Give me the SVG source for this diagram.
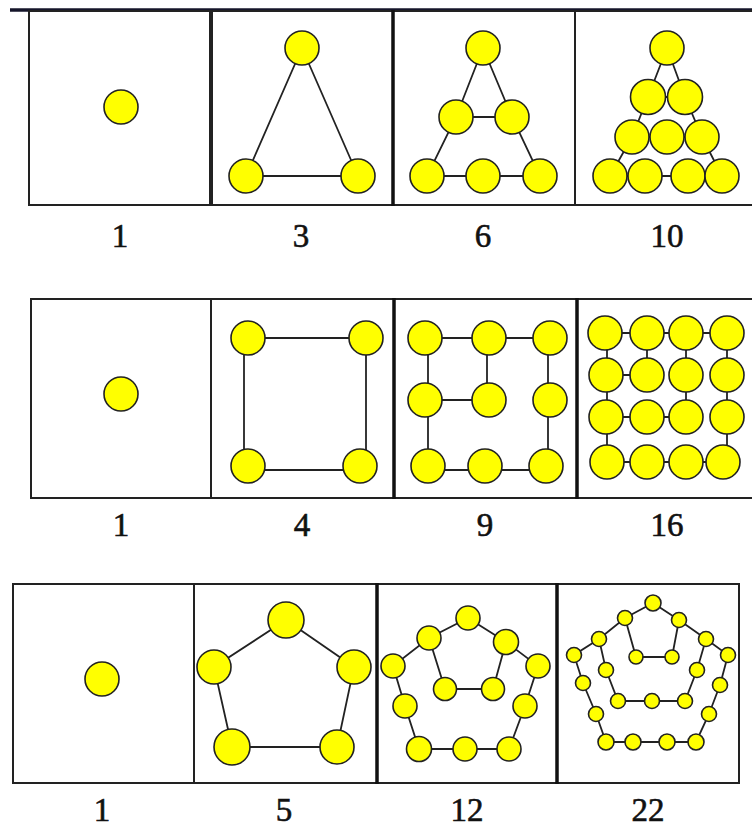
<svg xmlns="http://www.w3.org/2000/svg" width="752" height="827" viewBox="0 0 752 827">
<style>
.bg{fill:#ffffff}
.panel{fill:#ffffff;stroke:#222;stroke-width:2}
.thick{stroke:#111;stroke-width:3.5;fill:none}
.bar{stroke:#15152a;stroke-width:3.5}
.n{fill:#ffff00;stroke:#222;stroke-width:1.6}
.e line,.e polyline{stroke:#222;stroke-width:1.8;fill:none}
.lbl{font-family:"Liberation Serif","Times New Roman",serif;font-size:33px;fill:#111;stroke:#111;stroke-width:0.6;text-anchor:middle}
</style>
<rect class="bg" x="0" y="0" width="752" height="827"/>

<!-- frames -->
<g id="frames">
<line class="bar" x1="10" y1="10" x2="752" y2="10"/>
<rect class="panel" x="29" y="11" width="181" height="194"/>
<rect class="panel" x="212" y="11" width="181" height="194"/>
<rect class="panel" x="393" y="11" width="182" height="194"/>
<rect class="panel" x="575" y="11" width="180" height="194"/>
<line class="thick" x1="393" y1="10" x2="393" y2="206"/>

<rect class="panel" x="31" y="299" width="180" height="199"/>
<rect class="panel" x="211" y="299" width="183" height="199"/>
<rect class="panel" x="394" y="299" width="183" height="199"/>
<rect class="panel" x="577" y="299" width="178" height="199"/>
<line class="thick" x1="394" y1="298" x2="394" y2="499"/>
<line class="thick" x1="577" y1="298" x2="577" y2="499"/>

<rect class="panel" x="13" y="584" width="181" height="199"/>
<rect class="panel" x="194" y="584" width="183" height="199"/>
<rect class="panel" x="377" y="584" width="180" height="199"/>
<rect class="panel" x="557" y="584" width="182" height="199"/>
<line class="thick" x1="377" y1="583" x2="377" y2="784"/>
<line class="thick" x1="557" y1="583" x2="557" y2="784"/>
</g>

<!-- connectors -->
<g id="connectors" class="e">
<!-- triangle 3 -->
<polyline points="302,48 246,176 358,176 302,48"/>
<!-- triangle 6 -->
<polyline points="483,48 456,117 427,176 483,176 540,176 512,117 483,48"/>
<line x1="456" y1="117" x2="512" y2="117"/>
<!-- triangle 10 -->
<polyline points="667,48 648,97 632,137 610,176 645,176 688,176 722,176 702,137 685,97 667,48"/>
<line x1="648" y1="97" x2="685" y2="97"/>
<line x1="632" y1="137" x2="702" y2="137"/>
<!-- square 4 -->
<line x1="248" y1="338" x2="366" y2="338"/>
<line x1="244" y1="338" x2="244" y2="466"/>
<line x1="366" y1="338" x2="366" y2="466"/>
<line x1="248" y1="470" x2="360" y2="470"/>
<!-- square 9 -->
<line x1="425" y1="338" x2="550" y2="338"/>
<line x1="428" y1="338" x2="428" y2="466"/>
<line x1="487" y1="338" x2="487" y2="400"/>
<line x1="425" y1="400" x2="489" y2="400"/>
<line x1="548" y1="338" x2="548" y2="466"/>
<line x1="428" y1="470" x2="546" y2="470"/>
<!-- square 16 -->
<line x1="605" y1="333" x2="727" y2="333"/>
<line x1="605" y1="462" x2="727" y2="462"/>
<line x1="607" y1="333" x2="607" y2="462"/>
<line x1="727" y1="333" x2="727" y2="462"/>
<line x1="647" y1="333" x2="647" y2="375"/>
<line x1="686" y1="333" x2="686" y2="417"/>
<line x1="605" y1="375" x2="647" y2="375"/>
<line x1="605" y1="417" x2="686" y2="417"/>
<!-- pentagon 5 -->
<polyline points="286,620 214,667 232,747 337,747 354,667 286,620"/>
<!-- pentagon 12 -->
<polyline points="468,618 429,638 393,666 405,706 419,749 465,749 509,749 525,706 538,666 506,642 468,618"/>
<polyline points="429,638 445,689 493,689 506,642"/>
<!-- pentagon 22 -->
<polyline points="653,603 625,618 599,639 574,655 583,683 596,714 606,742 633,742 667,742 696,742 709,714 720,685 728,655 706,639 679,620 653,603"/>
<polyline points="599,639 606,670 618,701 652,701 685,701 697,670 706,639"/>
<polyline points="625,618 636,657 672,657 679,620"/>
</g>

<!-- nodes: row 1 -->
<g id="tri1"><g id="t1-1"><circle class="n" cx="121" cy="107" r="17"/></g></g>
<g id="tri3">
<g id="t3-1"><circle class="n" cx="302" cy="48" r="17"/></g>
<g id="t3-2"><circle class="n" cx="246" cy="176" r="17"/></g>
<g id="t3-3"><circle class="n" cx="358" cy="176" r="17"/></g>
</g>
<g id="tri6">
<g id="t6-1"><circle class="n" cx="483" cy="48" r="17"/></g>
<g id="t6-2"><circle class="n" cx="456" cy="117" r="17"/></g>
<g id="t6-3"><circle class="n" cx="512" cy="117" r="17"/></g>
<g id="t6-4"><circle class="n" cx="427" cy="176" r="17"/></g>
<g id="t6-5"><circle class="n" cx="483" cy="176" r="17"/></g>
<g id="t6-6"><circle class="n" cx="540" cy="176" r="17"/></g>
</g>
<g id="tri10">
<g id="t10-1"><circle class="n" cx="667" cy="48" r="17"/></g>
<g id="t10-2"><circle class="n" cx="648" cy="97" r="17.5"/></g>
<g id="t10-3"><circle class="n" cx="685" cy="97" r="17.5"/></g>
<g id="t10-4"><circle class="n" cx="632" cy="137" r="17"/></g>
<g id="t10-5"><circle class="n" cx="667" cy="137" r="17"/></g>
<g id="t10-6"><circle class="n" cx="702" cy="137" r="17"/></g>
<g id="t10-7"><circle class="n" cx="610" cy="176" r="17"/></g>
<g id="t10-8"><circle class="n" cx="645" cy="176" r="17"/></g>
<g id="t10-9"><circle class="n" cx="688" cy="176" r="17"/></g>
<g id="t10-10"><circle class="n" cx="722" cy="176" r="17"/></g>
</g>

<!-- nodes: row 2 -->
<g id="sq1"><g id="s1-1"><circle class="n" cx="121" cy="394" r="17"/></g></g>
<g id="sq4">
<g id="s4-1"><circle class="n" cx="248" cy="338" r="17"/></g>
<g id="s4-2"><circle class="n" cx="366" cy="338" r="17"/></g>
<g id="s4-3"><circle class="n" cx="248" cy="466" r="17"/></g>
<g id="s4-4"><circle class="n" cx="360" cy="466" r="17"/></g>
</g>
<g id="sq9">
<g id="s9-1"><circle class="n" cx="425" cy="338" r="17"/></g>
<g id="s9-2"><circle class="n" cx="489" cy="338" r="17"/></g>
<g id="s9-3"><circle class="n" cx="550" cy="338" r="17"/></g>
<g id="s9-4"><circle class="n" cx="425" cy="400" r="17"/></g>
<g id="s9-5"><circle class="n" cx="489" cy="400" r="17"/></g>
<g id="s9-6"><circle class="n" cx="550" cy="400" r="17"/></g>
<g id="s9-7"><circle class="n" cx="428" cy="466" r="17"/></g>
<g id="s9-8"><circle class="n" cx="485" cy="466" r="17"/></g>
<g id="s9-9"><circle class="n" cx="546" cy="466" r="17"/></g>
</g>
<g id="sq16">
<g id="s16-1"><circle class="n" cx="605" cy="333" r="17"/></g>
<g id="s16-2"><circle class="n" cx="647" cy="333" r="17"/></g>
<g id="s16-3"><circle class="n" cx="686" cy="333" r="17"/></g>
<g id="s16-4"><circle class="n" cx="727" cy="333" r="17"/></g>
<g id="s16-5"><circle class="n" cx="606" cy="375" r="17"/></g>
<g id="s16-6"><circle class="n" cx="647" cy="375" r="17"/></g>
<g id="s16-7"><circle class="n" cx="686" cy="375" r="17"/></g>
<g id="s16-8"><circle class="n" cx="727" cy="375" r="17"/></g>
<g id="s16-9"><circle class="n" cx="606" cy="417" r="17"/></g>
<g id="s16-10"><circle class="n" cx="647" cy="417" r="17"/></g>
<g id="s16-11"><circle class="n" cx="686" cy="417" r="17"/></g>
<g id="s16-12"><circle class="n" cx="727" cy="417" r="17"/></g>
<g id="s16-13"><circle class="n" cx="607" cy="462" r="17"/></g>
<g id="s16-14"><circle class="n" cx="647" cy="462" r="17"/></g>
<g id="s16-15"><circle class="n" cx="686" cy="462" r="17"/></g>
<g id="s16-16"><circle class="n" cx="723" cy="462" r="17"/></g>
</g>

<!-- nodes: row 3 -->
<g id="pen1"><g id="p1-1"><circle class="n" cx="102" cy="679" r="17"/></g></g>
<g id="pen5">
<g id="p5-1"><circle class="n" cx="286" cy="620" r="18"/></g>
<g id="p5-2"><circle class="n" cx="214" cy="667" r="17"/></g>
<g id="p5-3"><circle class="n" cx="354" cy="667" r="17"/></g>
<g id="p5-4"><circle class="n" cx="232" cy="747" r="18"/></g>
<g id="p5-5"><circle class="n" cx="337" cy="747" r="17"/></g>
</g>
<g id="pen12">
<g id="p12-1"><circle class="n" cx="468" cy="618" r="12"/></g>
<g id="p12-2"><circle class="n" cx="429" cy="638" r="12"/></g>
<g id="p12-3"><circle class="n" cx="506" cy="642" r="12.5"/></g>
<g id="p12-4"><circle class="n" cx="393" cy="666" r="12"/></g>
<g id="p12-5"><circle class="n" cx="538" cy="666" r="12"/></g>
<g id="p12-6"><circle class="n" cx="405" cy="706" r="12"/></g>
<g id="p12-7"><circle class="n" cx="525" cy="706" r="12"/></g>
<g id="p12-8"><circle class="n" cx="445" cy="689" r="11.5"/></g>
<g id="p12-9"><circle class="n" cx="493" cy="689" r="11.5"/></g>
<g id="p12-10"><circle class="n" cx="419" cy="749" r="12.5"/></g>
<g id="p12-11"><circle class="n" cx="465" cy="749" r="12"/></g>
<g id="p12-12"><circle class="n" cx="509" cy="749" r="12"/></g>
</g>
<g id="pen22">
<g id="p22-1"><circle class="n" cx="653" cy="603" r="8"/></g>
<g id="p22-2"><circle class="n" cx="625" cy="618" r="7.5"/></g>
<g id="p22-3"><circle class="n" cx="679" cy="620" r="7.5"/></g>
<g id="p22-4"><circle class="n" cx="599" cy="639" r="7.5"/></g>
<g id="p22-5"><circle class="n" cx="706" cy="639" r="7.5"/></g>
<g id="p22-6"><circle class="n" cx="574" cy="655" r="7.5"/></g>
<g id="p22-7"><circle class="n" cx="728" cy="655" r="7.5"/></g>
<g id="p22-8"><circle class="n" cx="636" cy="657" r="7"/></g>
<g id="p22-9"><circle class="n" cx="672" cy="657" r="7"/></g>
<g id="p22-10"><circle class="n" cx="606" cy="670" r="7.5"/></g>
<g id="p22-11"><circle class="n" cx="697" cy="670" r="7.5"/></g>
<g id="p22-12"><circle class="n" cx="583" cy="683" r="7.5"/></g>
<g id="p22-13"><circle class="n" cx="720" cy="685" r="7.5"/></g>
<g id="p22-14"><circle class="n" cx="618" cy="701" r="7.5"/></g>
<g id="p22-15"><circle class="n" cx="652" cy="701" r="7.5"/></g>
<g id="p22-16"><circle class="n" cx="685" cy="701" r="7.5"/></g>
<g id="p22-17"><circle class="n" cx="596" cy="714" r="7.5"/></g>
<g id="p22-18"><circle class="n" cx="709" cy="714" r="7.5"/></g>
<g id="p22-19"><circle class="n" cx="606" cy="742" r="8"/></g>
<g id="p22-20"><circle class="n" cx="633" cy="742" r="8"/></g>
<g id="p22-21"><circle class="n" cx="667" cy="742" r="8"/></g>
<g id="p22-22"><circle class="n" cx="696" cy="742" r="8"/></g>
</g>

<!-- labels -->
<g id="labels">
<text class="lbl" x="120" y="247">1</text>
<text class="lbl" x="301" y="247">3</text>
<text class="lbl" x="483" y="247">6</text>
<text class="lbl" x="667" y="247">10</text>
<text class="lbl" x="121" y="536">1</text>
<text class="lbl" x="302" y="536">4</text>
<text class="lbl" x="485" y="536">9</text>
<text class="lbl" x="667" y="536">16</text>
<text class="lbl" x="102" y="821">1</text>
<text class="lbl" x="284" y="821">5</text>
<text class="lbl" x="467" y="821">12</text>
<text class="lbl" x="648" y="821">22</text>
</g>
</svg>
